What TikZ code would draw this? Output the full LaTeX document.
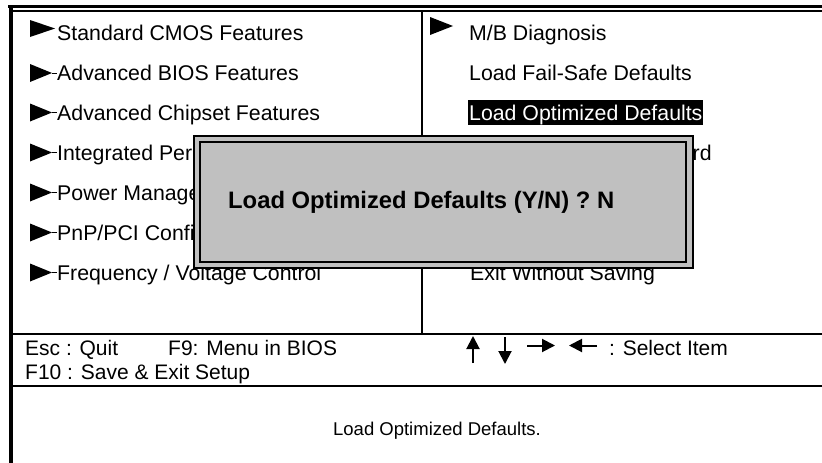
\documentclass[tikz,border=0pt]{standalone}
\usepackage{fontspec}
\setmainfont{Liberation Sans}
\usetikzlibrary{arrows.meta}
\begin{document}
\begin{tikzpicture}[x=1pt,y=-1pt,
  item/.style={anchor=base west,inner sep=0pt,font=\fontsize{21.3}{24}\selectfont},
  hint/.style={anchor=base west,inner sep=0pt,font=\fontsize{21}{24}\selectfont},
  frame/.style={line width=2pt,draw=black},
  keyarrow/.style={line width=2pt,-{Triangle[width=13pt,length=13pt]}}]
\useasboundingbox (0,0) rectangle (822,463);
\fill[white] (0,0) rectangle (822,463);
% outer frame
\draw[line width=2.5pt] (8,6.5) -- (822,6.5);
\draw[line width=1.5pt] (12,11) -- (822,11);
\draw[line width=4pt] (10.5,5.3) -- (10.5,463);
\draw[line width=1.5pt] (422,11) -- (422,334);
\draw[frame] (12,334) -- (822,334);
\draw[frame] (12,386) -- (822,386);
% left menu
\foreach \c in {73,112.5,152.5,192.5,232.5,272.5}{
  \fill (30,\c-9) -- (30,\c+9) -- (52,\c) -- cycle;
  \draw[line width=0.8pt] (52,\c) -- (57,\c);
}
\fill (30,20) -- (30,37) -- (55,28.5) -- cycle;
\node[item] (l1) at (57,40.5) {Standard CMOS Features};
\node[item] (l2) at (57,80.5) {Advanced BIOS Features};
\node[item] (l3) at (57,120) {Advanced Chipset Features};
\node[item] (l4) at (57,160) {Integrated Peri};
\node[item] (l5) at (57,200) {Power Manage};
\node[item] (l6) at (57,240) {PnP/PCI Confi};
\node[item] (l7) at (57,280) {Frequency / Voltage Control};
% right menu
\fill (430,17) -- (430,35) -- (453,26) -- cycle;
\node[item] (r1) at (469,40.5) {M/B Diagnosis};
\node[item] (r2) at (469,80.5) {Load Fail-Safe Defaults};
\fill[black] (468,100) rectangle (703,125);
\node[item,text=white] (r3) at (469,120) {Load Optimized Defaults};
\node[item] (r4) at (692.5,160) {rd};
\node[item] (r7) at (470,280) {Exit Without Saving};
% dialog
\draw[line width=2pt,fill={rgb,255:red,192;green,192;blue,192}] (194,136) rectangle (693,268);
\draw[line width=1.6pt] (200,142) rectangle (686,262);
\node[anchor=base west,inner sep=0pt,font=\fontsize{23.8}{27}\selectfont\bfseries] (dlg) at (228,208) {Load Optimized Defaults (Y/N) ? N};
% hints
\node[hint] (esc) at (25,355) {Esc : Quit};
\node[hint] (f9) at (168,355) {F9: Menu in BIOS};
\node[hint] (f10) at (25,379) {F10 : Save \& Exit Setup};
\coordinate (ua1) at (473,363); \coordinate (ua2) at (473,336);
\coordinate (da1) at (505,337); \coordinate (da2) at (505,364);
\coordinate (ra1) at (527,345.5); \coordinate (ra2) at (555,345.5);
\coordinate (la1) at (597,345.5); \coordinate (la2) at (569,345.5);
\draw[keyarrow] (ua1) -- (ua2);
\draw[keyarrow] (da1) -- (da2);
\draw[keyarrow] (ra1) -- (ra2);
\draw[keyarrow] (la1) -- (la2);
\node[hint] (sel) at (609,355) {: Select Item};
\node[anchor=base,inner sep=0pt,font=\fontsize{18.5}{22}\selectfont] (help) at (437,435) {Load Optimized Defaults.};
\end{tikzpicture}
\end{document}
